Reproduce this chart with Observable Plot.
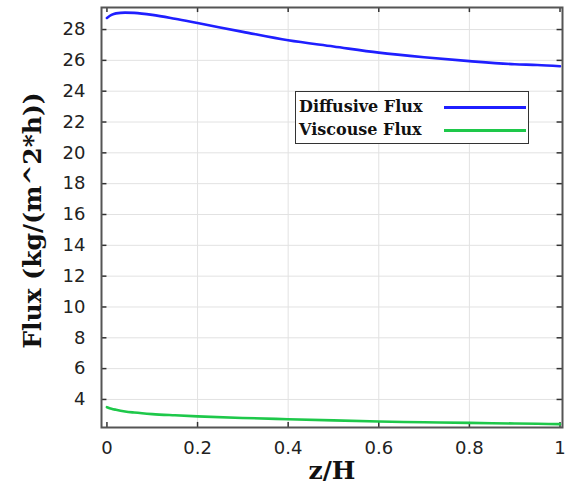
<!DOCTYPE html>
<html>
<head>
<meta charset="utf-8">
<script src="https://cdn.jsdelivr.net/npm/d3@7"></script>
<script src="https://cdn.jsdelivr.net/npm/@observablehq/plot@0.6"></script>
<style>
  html, body { margin: 0; padding: 0; background: #fff; }
  #wrap { position: relative; width: 570px; height: 494px; }
  #legend {
    position: absolute; left: 295px; top: 91px; width: 234px; height: 53px;
    border: 1.6px solid #333; background: #fff; box-sizing: border-box;
    font-family: "DejaVu Serif", serif; font-weight: bold; font-size: 16px; color: #111;
  }
  .row { position: absolute; left: 3px; height: 22px; line-height: 22px; white-space: nowrap; }
  .sw { position: absolute; left: 148px; width: 82px; height: 2.5px; }
</style>
</head>
<body>
<div id="wrap">
  <div id="chart"></div>
  <div id="legend"></div>
</div>
<script>
const zH = [0, 0.01, 0.02, 0.04, 0.06, 0.1, 0.15, 0.2, 0.3, 0.4, 0.5, 0.6, 0.7, 0.8, 0.9, 0.95, 1.0];
const diffusive = [28.75, 28.95, 29.05, 29.1, 29.08, 28.95, 28.7, 28.42, 27.85, 27.3, 26.9, 26.5, 26.2, 25.95, 25.75, 25.7, 25.62];
const viscous = [3.5, 3.4, 3.33, 3.22, 3.15, 3.05, 2.97, 2.9, 2.8, 2.72, 2.64, 2.57, 2.52, 2.48, 2.44, 2.42, 2.4];
const seriesNames = ["Diffusive Flux", "Viscouse Flux"];
const seriesColors = ["#1f1fff", "#1ec84a"];
const xTicks = [0, 0.2, 0.4, 0.6, 0.8, 1];
const xTickLabels = ["0", "0.2", "0.4", "0.6", "0.8", "1"];
const yTicks = [4, 6, 8, 10, 12, 14, 16, 18, 20, 22, 24, 26, 28];
const xLabel = "z/H";
const yLabel = "Flux (kg/(m^2*h))";

const xDomain = [-0.012, 1.0055];
const yDomain = [2.18, 29.43];
const tx = 0.012, ty = 0.33;

const rows = [];
zH.forEach((z, i) => {
  rows.push({z, v: diffusive[i], s: seriesNames[0]});
  rows.push({z, v: viscous[i], s: seriesNames[1]});
});

const gridX = xTicks.filter(d => d > 0 && d < 1);

const chart = Plot.plot({
  width: 570, height: 494,
  marginLeft: 101, marginRight: 8, marginTop: 7, marginBottom: 67,
  style: {fontFamily: "DejaVu Sans, sans-serif", background: "#fff"},
  x: {domain: xDomain},
  y: {domain: yDomain},
  color: {domain: seriesNames, range: seriesColors},
  marks: [
    Plot.ruleX(gridX, {stroke: "#e2e2e2", strokeWidth: 1}),
    Plot.ruleY(yTicks, {stroke: "#e2e2e2", strokeWidth: 1}),
    // inward ticks
    Plot.ruleX(xTicks, {y1: yDomain[0], y2: yDomain[0] + ty, stroke: "#333", strokeWidth: 1.5}),
    Plot.ruleX(xTicks, {y1: yDomain[1] - ty, y2: yDomain[1], stroke: "#333", strokeWidth: 1.5}),
    Plot.ruleY(yTicks, {x1: xDomain[0], x2: xDomain[0] + tx, stroke: "#333", strokeWidth: 1.5}),
    Plot.ruleY(yTicks, {x1: xDomain[1] - tx, x2: xDomain[1], stroke: "#333", strokeWidth: 1.5}),
    Plot.line(rows, {x: "z", y: "v", z: "s", stroke: "s", strokeWidth: 2.6, curve: "monotone-x"}),
    Plot.frame({stroke: "#555", strokeWidth: 2}),
    Plot.axisX({ticks: xTicks, tickFormat: (d) => xTickLabels[xTicks.indexOf(d)], tickSize: 0, tickPadding: 14, fontSize: 18, fill: "#222", label: null}),
    Plot.axisY({ticks: yTicks, tickSize: 0, tickPadding: 16, fontSize: 18, fill: "#222", label: null}),
    Plot.text([xLabel], {frameAnchor: "bottom", dy: 51, fontSize: 25, fontWeight: "bold", fontFamily: "DejaVu Serif, serif", fill: "#111"}),
    Plot.text([yLabel], {frameAnchor: "left", textAnchor: "middle", dx: -69, dy: 3, rotate: -90, fontSize: 25, fontWeight: "bold", fontFamily: "DejaVu Serif, serif", fill: "#111"})
  ]
});
document.getElementById("chart").appendChild(chart);

const legend = document.getElementById("legend");
seriesNames.forEach((name, i) => {
  const r = document.createElement("div");
  r.className = "row";
  r.style.top = (4 + i * 23) + "px";
  r.textContent = name;
  legend.appendChild(r);
  const sw = document.createElement("div");
  sw.className = "sw";
  sw.style.top = (14 + i * 23) + "px";
  sw.style.background = seriesColors[i];
  legend.appendChild(sw);
});
</script>
</body>
</html>
